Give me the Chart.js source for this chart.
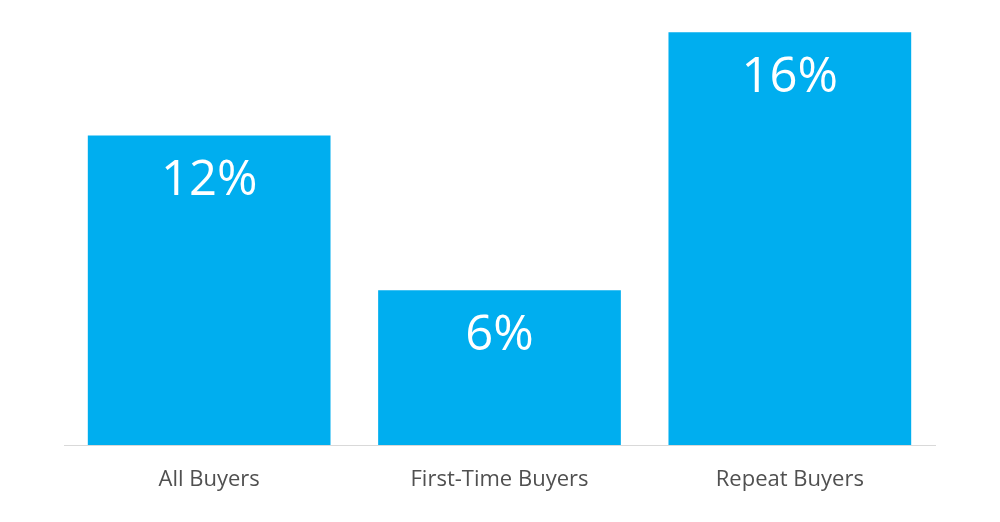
<!DOCTYPE html>
<html>
<head>
<meta charset="utf-8">
<script src="https://cdn.jsdelivr.net/npm/chart.js@4/dist/chart.umd.min.js"></script>
<style>
  html, body { margin: 0; padding: 0; background: #fff; }
  #wrap { width: 1000px; height: 522px; position: relative; }
</style>
</head>
<body>
<div id="wrap"><canvas id="myChart"></canvas></div>
<script>
var categories = ['All Buyers', 'First-Time Buyers', 'Repeat Buyers'];
var values = [12, 6, 16];
var valueLabels = ['12%', '6%', '16%'];

// draws the percentage inside each bar, near its top
var barText = {
    id: 'barText',
    afterDatasetsDraw: function(chart) {
        var ctx = chart.ctx;
        var meta = chart.getDatasetMeta(0);
        ctx.save();
        ctx.fillStyle = '#ffffff';
        ctx.font = '49px "Open Sans", sans-serif';
        ctx.textAlign = 'center';
        ctx.textBaseline = 'middle';
        meta.data.forEach(function(bar, i) {
            ctx.fillText(valueLabels[i], bar.x, bar.y + 46);
        });
        ctx.restore();
    }
};

var ctx = document.getElementById('myChart').getContext('2d');
var myChart = new Chart(ctx, {
    type: 'bar',
    data: {
        labels: categories,
        datasets: [{
            data: values,
            backgroundColor: '#00AEEF',
            borderWidth: 0,
            barPercentage: 0.836,
            categoryPercentage: 1.0
        }]
    },
    options: {
        responsive: true,
        maintainAspectRatio: false,
        animation: false,
        layout: { padding: { left: 64, right: 65, top: 0, bottom: 0 } },
        plugins: { legend: { display: false }, tooltip: { enabled: false } },
        scales: {
            x: {
                grid: { display: false },
                border: { display: true, color: '#d9d9d9', width: 1 },
                ticks: {
                    color: '#505050',
                    padding: 14,
                    font: { family: '"Open Sans", sans-serif', size: 22 }
                },
                afterFit: function(scale) { scale.height = 77; }
            },
            y: {
                display: false,
                min: 0,
                max: 17.25
            }
        }
    },
    plugins: [barText]
});
</script>
</body>
</html>
